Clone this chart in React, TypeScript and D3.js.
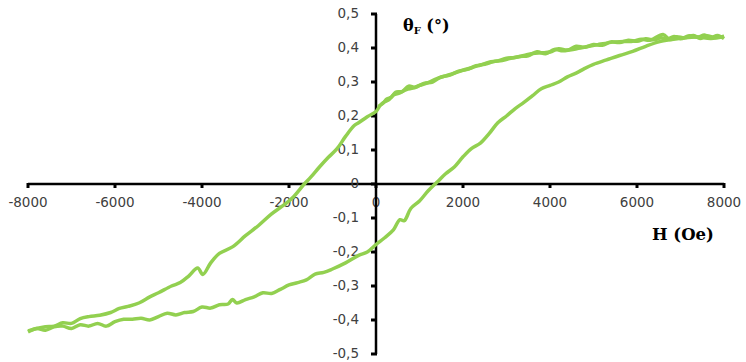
import { useEffect, useRef } from 'react'
import * as d3 from 'd3'

// field sweep down (upper branch) and back up (lower branch), H in Oe, theta in degrees
const UP_H = [
  8000, 7850, 7700, 7550, 7400, 7200, 7000, 6850, 6700, 6550, 6400, 6200, 6000, 5800, 5600, 5400,
  5200, 5000, 4800, 4600, 4400, 4200, 4000, 3800, 3600, 3400, 3200, 3000, 2800, 2600, 2400, 2200,
  2000, 1800, 1600, 1400, 1200, 1000, 850, 700, 550, 400, 300, 200, 100, 0, -200, -400, -500, -700,
  -900, -1100, -1300, -1500, -1650, -1900, -2100, -2400, -2700, -3000, -3300, -3600, -3800, -3980,
  -4100, -4300, -4500, -4700, -5000, -5200, -5450, -5700, -5900, -6100, -6350, -6600, -6800, -7000,
  -7200, -7400, -7600, -7800, -8000,
]
const UP_THETA = [
  0.428, 0.437, 0.43, 0.438, 0.432, 0.436, 0.427, 0.434, 0.426, 0.43, 0.424, 0.427, 0.42, 0.423,
  0.416, 0.418, 0.408, 0.41, 0.402, 0.405, 0.394, 0.398, 0.388, 0.386, 0.384, 0.378, 0.372, 0.37,
  0.362, 0.358, 0.35, 0.342, 0.335, 0.326, 0.318, 0.31, 0.298, 0.29, 0.282, 0.278, 0.268, 0.262,
  0.248, 0.242, 0.232, 0.213, 0.198, 0.18, 0.172, 0.14, 0.103, 0.078, 0.05, 0.02, 0.0, -0.038,
  -0.06, -0.088, -0.122, -0.152, -0.185, -0.204, -0.232, -0.266, -0.247, -0.27, -0.29, -0.3, -0.32,
  -0.332, -0.35, -0.36, -0.366, -0.378, -0.386, -0.39, -0.396, -0.41, -0.408, -0.418, -0.42,
  -0.425, -0.432,
]
// second pass over the saturated positive side (traces overlap there)
const UP2_H = [
  8000, 7800, 7600, 7450, 7300, 7100, 6900, 6750, 6600, 6300, 6100, 5900, 5500, 5100, 4700, 4300,
  4100, 3900, 3700, 3500, 3300, 3100, 2900, 2700, 2500, 2300, 2100, 1900, 1700, 1500, 1300, 1100,
  900, 750, 600, 450, 350, 250, 150, 50,
]
const UP2_THETA = [
  0.434, 0.43, 0.436, 0.428, 0.437, 0.43, 0.433, 0.425, 0.44, 0.423, 0.426, 0.42, 0.418, 0.41, 0.4,
  0.392, 0.396, 0.383, 0.389, 0.377, 0.375, 0.37, 0.363, 0.36, 0.352, 0.348, 0.337, 0.332, 0.32,
  0.315, 0.3, 0.296, 0.284, 0.288, 0.272, 0.27, 0.255, 0.25, 0.236, 0.228,
]
const DOWN_H = [
  -8000, -7800, -7600, -7400, -7200, -7000, -6800, -6600, -6400, -6200, -6000, -5800, -5600, -5400,
  -5200, -5000, -4800, -4600, -4400, -4200, -4000, -3800, -3600, -3400, -3300, -3200, -3000, -2800,
  -2600, -2400, -2200, -2000, -1800, -1600, -1400, -1200, -1000, -700, -400, -200, 0, 200, 400, 550,
  650, 800, 1000, 1200, 1400, 1600, 1800, 2000, 2200, 2400, 2600, 2800, 3000, 3200, 3400, 3600,
  3800, 4000, 4200, 4400, 4600, 4800, 5000, 5300, 5600, 5900, 6200, 6500, 6800, 7100, 7400, 7700,
  8000,
]
const DOWN_THETA = [
  -0.435, -0.425, -0.43, -0.42, -0.418, -0.425, -0.414, -0.418, -0.41, -0.418, -0.405, -0.398,
  -0.398, -0.395, -0.4, -0.39, -0.38, -0.385, -0.378, -0.375, -0.362, -0.365, -0.355, -0.353, -0.34,
  -0.35, -0.34, -0.332, -0.32, -0.322, -0.31, -0.297, -0.29, -0.282, -0.265, -0.26, -0.25, -0.232,
  -0.21, -0.2, -0.178, -0.158, -0.135, -0.105, -0.108, -0.072, -0.05, -0.02, 0.005, 0.03, 0.05,
  0.08, 0.105, 0.12, 0.148, 0.18, 0.2, 0.222, 0.24, 0.26, 0.28, 0.29, 0.3, 0.315, 0.326, 0.34,
  0.352, 0.365, 0.378, 0.39, 0.405, 0.418, 0.425, 0.43, 0.432, 0.428, 0.435,
]

const X_TICKS = [-8000, -6000, -4000, -2000, 0, 2000, 4000, 6000, 8000]
const Y_TICKS = [-0.5, -0.4, -0.3, -0.2, -0.1, 0, 0.1, 0.2, 0.3, 0.4, 0.5]

const GREEN = '#92D050'
const LABEL_FONT = '"DejaVu Sans", sans-serif'
const TITLE_FONT = '"DejaVu Serif", serif'

export default function App() {
  const svgRef = useRef<SVGSVGElement>(null)

  useEffect(() => {
    const svgEl = svgRef.current
    if (!svgEl) return
    const svg = d3.select(svgEl)
    svg.selectAll('*').remove()

    const x = d3.scaleLinear().domain([-8000, 8000]).range([28, 724])
    const y = d3.scaleLinear().domain([-0.5, 0.5]).range([354, 14])
    const x0 = x(0), y0 = y(0)

    const line = d3.line<[number, number]>()
      .x(d => x(d[0])).y(d => y(d[1]))
      .curve(d3.curveCatmullRom.alpha(0.5))

    const zip = (hs: number[], ts: number[]) => hs.map((h, i) => [h, ts[i]] as [number, number])

    // x axis
    svg.append('line')
      .attr('x1', x(-8000)).attr('x2', x(8000)).attr('y1', y0).attr('y2', y0)
      .attr('stroke', '#000').attr('stroke-width', 2.5)
    X_TICKS.forEach(t => {
      svg.append('line')
        .attr('x1', x(t)).attr('x2', x(t)).attr('y1', y0 - 1).attr('y2', y0 + 4)
        .attr('stroke', '#000').attr('stroke-width', 3)
      svg.append('text')
        .attr('x', x(t)).attr('y', y0 + 23)
        .attr('text-anchor', 'middle')
        .attr('font-family', LABEL_FONT).attr('font-size', 13.5).attr('fill', '#404040')
        .text(String(t))
    })

    // y axis
    svg.append('line')
      .attr('x1', x0).attr('x2', x0).attr('y1', y(0.5)).attr('y2', y(-0.5))
      .attr('stroke', '#000').attr('stroke-width', 2.5)
    Y_TICKS.forEach(t => {
      svg.append('line')
        .attr('x1', x0 - 5).attr('x2', x0 + 1).attr('y1', y(t)).attr('y2', y(t))
        .attr('stroke', '#000').attr('stroke-width', 3)
      svg.append('text')
        .attr('x', x0 - 17).attr('y', y(t) + 4)
        .attr('text-anchor', 'end')
        .attr('font-family', LABEL_FONT).attr('font-size', 13.5).attr('fill', '#404040')
        .text(d3.format('.1f')(t).replace('.', ',').replace(/^0,0$/, '0').replace('−', '-'))
    })

    // loop
    ;[zip(UP_H, UP_THETA), zip(UP2_H, UP2_THETA), zip(DOWN_H, DOWN_THETA)].forEach(pts => {
      svg.append('path')
        .attr('d', line(pts))
        .attr('fill', 'none').attr('stroke', GREEN)
        .attr('stroke-width', 3.5).attr('stroke-linejoin', 'round')
    })

    // titles
    const ty = svg.append('text')
      .attr('x', 403).attr('y', 31)
      .attr('font-family', TITLE_FONT).attr('font-weight', 700).attr('font-size', 16).attr('fill', '#000')
    ty.append('tspan').text('θ')
    ty.append('tspan').attr('font-size', 10).attr('dy', 3).text('F')
    ty.append('tspan').attr('dy', -3).text(' (°)')

    svg.append('text')
      .attr('x', 652).attr('y', 240)
      .attr('font-family', TITLE_FONT).attr('font-weight', 700).attr('font-size', 16.5).attr('fill', '#000')
      .text('H (Oe)')
  }, [])

  return (
    <svg
      ref={svgRef}
      width={746}
      height={362}
      style={{ position: 'absolute', left: 0, top: 0, background: '#fff' }}
    />
  )
}
